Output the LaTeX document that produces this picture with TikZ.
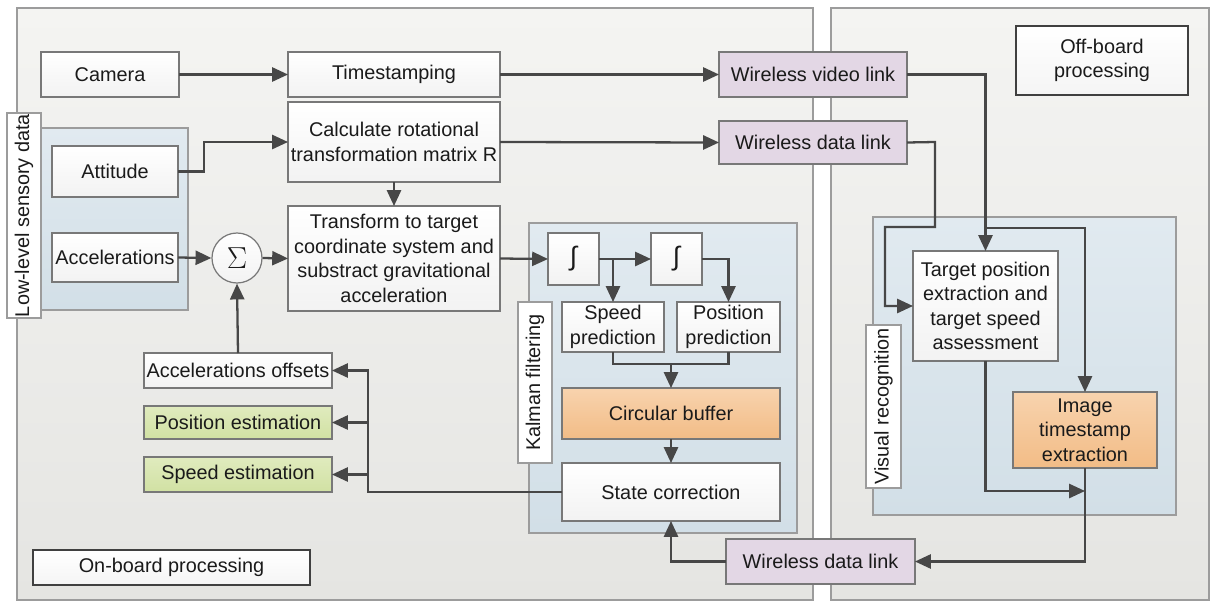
\documentclass[tikz,border=0pt]{standalone}
\usepackage{fontspec}
\setmainfont{Liberation Sans}
\usetikzlibrary{arrows.meta,calc}
\definecolor{panelT}{HTML}{F4F4F2}
\definecolor{panelB}{HTML}{E5E5E2}
\definecolor{panelD}{HTML}{9C9C9C}
\definecolor{blueT}{HTML}{E1EAF0}
\definecolor{blueB}{HTML}{D2DFE7}
\definecolor{purp}{HTML}{E3D7E5}
\definecolor{greenT}{HTML}{E0EBBE}
\definecolor{greenB}{HTML}{D1E1A3}
\definecolor{orT}{HTML}{F8D3AE}
\definecolor{orB}{HTML}{F2BC86}
\definecolor{boxD}{HTML}{787878}
\definecolor{arrowc}{HTML}{474747}
\definecolor{txt}{HTML}{1A1A1A}
\tikzset{
  panel/.style={draw=panelD, line width=1.1pt, top color=panelT, bottom color=panelB},
  bluebox/.style={draw=panelD, line width=1.1pt, top color=blueT, bottom color=blueB},
  fitbox/.style={inner sep=0pt, outer sep=0pt, text=txt, align=center, font=\fontsize{11.3}{14}\selectfont},
  wbox/.style={fitbox, draw=boxD, line width=0.7pt, top color=white, bottom color=black!5},
  pbox/.style={fitbox, draw=boxD, line width=0.7pt, fill=purp},
  gbox/.style={fitbox, draw=boxD, line width=0.7pt, top color=greenT, bottom color=greenB},
  obox/.style={fitbox, draw=boxD, line width=0.7pt, top color=orT, bottom color=orB},
  labbox/.style={fitbox, draw=panelD, line width=1.1pt, fill=white},
  titlebox/.style={fitbox, draw=black!75, line width=1.1pt, top color=white, bottom color=black!4},
  conn/.style={draw=arrowc, line width=1.3pt},
  arr/.style={conn, -{Triangle[length=9pt,width=8pt]}},
}
% style, name, x1, y1, x2, y2, text
\newcommand\bx[7]{\node[#1, minimum width={(#5-#3)*0.02cm}, minimum height={(#6-#4)*0.02cm}] (#2) at ({(#3+#5)/2},{(#4+#6)/2}) {#7};}
\begin{document}
\begin{tikzpicture}[x=0.02cm,y=-0.02cm]
\useasboundingbox (0,0) rectangle (1211,602);
% panels
\path[panel] (17,8) rectangle (813,600);
\path[panel] (831,8) rectangle (1209,600);
\path[bluebox] (41,128) rectangle (188,310);
\path[bluebox] (529,223) rectangle (797,533);
\path[bluebox] (873,217) rectangle (1176,515);
% rotated labels
\bx{labbox}{lowlab}{7}{113}{41}{318}{}
\node[txt, rotate=90, font=\fontsize{11.3}{14}\selectfont] at (lowlab.center) {Low-level sensory data};
\bx{labbox}{kallab}{518}{302}{552}{463}{}
\node[txt, rotate=90, font=\fontsize{11.3}{14}\selectfont] at (kallab.center) {Kalman filtering};
\bx{labbox}{vislab}{866}{325}{901}{488}{}
\node[txt, rotate=90, font=\fontsize{11.3}{14}\selectfont] at (vislab.center) {Visual recognition};
% nodes
\bx{wbox}{camera}{41}{52}{179}{97}{Camera}
\bx{wbox}{timestamp}{288}{52}{500}{97}{Timestamping}
\bx{wbox}{calc}{288}{102}{500}{182}{Calculate rotational\\transformation matrix R}
\bx{wbox}{attitude}{52}{146}{178}{197}{Attitude}
\bx{wbox}{accel}{52}{233}{178}{282}{Accelerations}
\node[circle, draw=boxD, line width=0.7pt, top color=white, bottom color=black!5, minimum size=50*0.02cm, inner sep=0pt, text=txt] (sigma) at (237,258) {\LARGE$\Sigma$};
\bx{wbox}{transform}{288}{206}{500}{311}{Transform to target\\coordinate system and\\substract gravitational\\acceleration}
\bx{pbox}{wvideo}{719}{52}{907}{97}{Wireless video link}
\bx{pbox}{wdata}{719}{121}{907}{164}{Wireless data link}
\bx{titlebox}{offboard}{1016}{26}{1188}{95}{Off-board\\processing}
\bx{wbox}{int1}{548}{233}{599}{285}{\fontsize{15}{15}\selectfont ∫}
\bx{wbox}{int2}{651}{233}{702}{285}{\fontsize{15}{15}\selectfont ∫}
\bx{wbox}{speedpred}{562}{302}{664}{352}{Speed\\prediction}
\bx{wbox}{pospred}{677}{302}{780}{352}{Position\\prediction}
\bx{obox}{circbuf}{562}{388}{780}{439}{Circular buffer}
\bx{wbox}{statecorr}{562}{463}{780}{521}{State correction}
\bx{pbox}{wdata2}{726}{539}{915}{584}{Wireless data link}
\bx{wbox}{accoff}{144}{353}{332}{388}{Accelerations offsets}
\bx{gbox}{posest}{144}{406}{332}{439}{Position estimation}
\bx{gbox}{speedest}{144}{457}{332}{492}{Speed estimation}
\bx{titlebox}{onboard}{33}{550}{310}{585}{On-board processing}
\bx{wbox}{target}{913}{251}{1058}{361}{Target position\\extraction and\\target speed\\assessment}
\bx{obox}{imgts}{1013}{392}{1157}{468}{Image\\timestamp\\extraction}
% connectors
\draw[arr] (camera.east) -- (timestamp.west);
\draw[arr] (timestamp.east) -- (wvideo.west);
\draw[arr] (attitude.east) -- ++(26,0) |- (calc.west);
\draw[arr] (calc.east) -- (wdata.west);
\draw[arr] (calc.south) -- (transform.north);
\draw[arr] (accel.east) -- (sigma.west);
\draw[arr] (sigma.east) -- (transform.west);
\draw[arr] (accoff.north) -- (sigma.south);
\draw[arr] (transform.east) -- (int1.west);
\draw[arr] (int1.east) -- (int2.west);
\coordinate (br1) at (speedpred.north |- int1.east);
\draw[arr] (br1) -- (speedpred.north);
\draw[arr] (int2.east) -| (pospred.north);
\coordinate (mj) at ($(speedpred.south)+(0,12)$);
\draw[conn] (speedpred.south) -- (mj) -| (pospred.south);
\draw[arr] (mj -| circbuf.north) -- (circbuf.north);
\draw[arr] (circbuf.south) -- (statecorr.north);
\coordinate (fb) at (368,0);
\draw[arr] (statecorr.west) -- (fb |- statecorr.west) |- (accoff.east);
\draw[arr] (fb |- posest.east) -- (posest.east);
\draw[arr] (fb |- speedest.east) -- (speedest.east);
\coordinate (vj) at (target.north |- 0,228);
\draw[arr] (wvideo.east) -| (target.north);
\draw[arr] (vj) -| (imgts.north);
\draw[arr] (wdata.east) -- (935,142) -- (935,227) -- (885,227) |- (target.west);
\draw[arr] (target.south) |- (imgts.south |- 0,491);
\draw[arr] (imgts.south) |- (wdata2.east);
\draw[arr] (wdata2.west) -| (statecorr.south);
\end{tikzpicture}
\end{document}
